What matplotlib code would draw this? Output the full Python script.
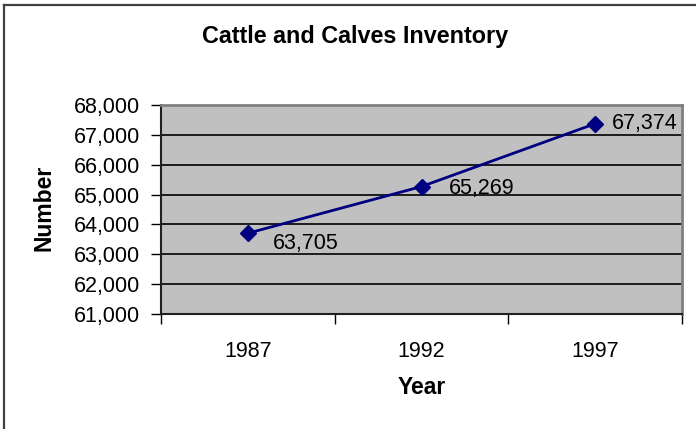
"""Cattle and Calves Inventory - Excel style line chart"""

import matplotlib
matplotlib.use('Agg')
import matplotlib.pyplot as plt
from matplotlib.lines import Line2D
from matplotlib.ticker import FuncFormatter, FixedLocator

years = ['1987', '1992', '1997']
inventory = [63705, 65269, 67374]
label_texts = ['63,705', '65,269', '67,374']

# смещения подписей в пикселях (dx, dy)
label_offsets = [(25, -10), (27, -2), (17, 0)]

plt.rcParams['font.family'] = ['Liberation Sans', 'DejaVu Sans']

W, H = 696, 429
fig = plt.figure(figsize=(W / 100, H / 100), dpi=100)

left, right, top, bottom = 161, 682, 105, 314
ax = fig.add_axes([left / W, 1 - bottom / H, (right - left) / W, (bottom - top) / H])
ax.set_facecolor('#C0C0C0')

x = range(len(years))
ax.plot(x, inventory, color='#000080', linewidth=2, marker='D', markersize=8.5, zorder=3)

for i, (val, txt) in enumerate(zip(inventory, label_texts)):
    dx, dy = label_offsets[i]
    ax.annotate(txt, (i, val), xytext=(dx, dy), textcoords='offset pixels',
                ha='left', va='center', fontsize=15.5, color='black', zorder=4)

ax.set_xlim(-0.5, len(years) - 0.5)
ax.set_ylim(61000, 68000)
ax.set_yticks(range(61000, 68001, 1000))
ax.yaxis.set_major_formatter(FuncFormatter(lambda v, p: f'{int(v):,}'))
ax.grid(axis='y', color='black', linewidth=1.2)
ax.set_axisbelow(True)

ax.set_xticks(list(x))
ax.set_xticklabels(years)
ax.xaxis.set_minor_locator(FixedLocator([i - 0.5 for i in range(len(years) + 1)]))
ax.tick_params(axis='x', which='major', length=0, pad=19.5, labelsize=15.5)
ax.tick_params(axis='x', which='minor', length=7, width=1, color='black', direction='out')
ax.tick_params(axis='y', length=7, width=1, direction='out', pad=8, labelsize=15.5)

for s in ['left', 'bottom']:
    ax.spines[s].set_color('#202020')
    ax.spines[s].set_linewidth(1.5)
for s in ['top', 'right']:
    ax.spines[s].set_color('#808080')
    ax.spines[s].set_linewidth(2)

fig.text(355.5 / W, 1 - 37 / H, 'Cattle and Calves Inventory', ha='center', va='center',
         fontsize=16.8, fontweight='bold')
fig.text(422 / W, 1 - 388 / H, 'Year', ha='center', va='center', fontsize=16.5, fontweight='bold')
fig.text(44.5 / W, 1 - 208 / H, 'Number', ha='center', va='center', rotation=90,
         fontsize=16.5, fontweight='bold')

# рамка диаграммы (видны только левая и верхняя стороны)
fig.add_artist(Line2D([4 / W, 4 / W], [0, 1 - 5 / H], color='#404040', linewidth=1.6))
fig.add_artist(Line2D([4 / W, 1], [1 - 5 / H, 1 - 5 / H], color='#404040', linewidth=1.6))

fig.savefig('out.png', dpi=100)
